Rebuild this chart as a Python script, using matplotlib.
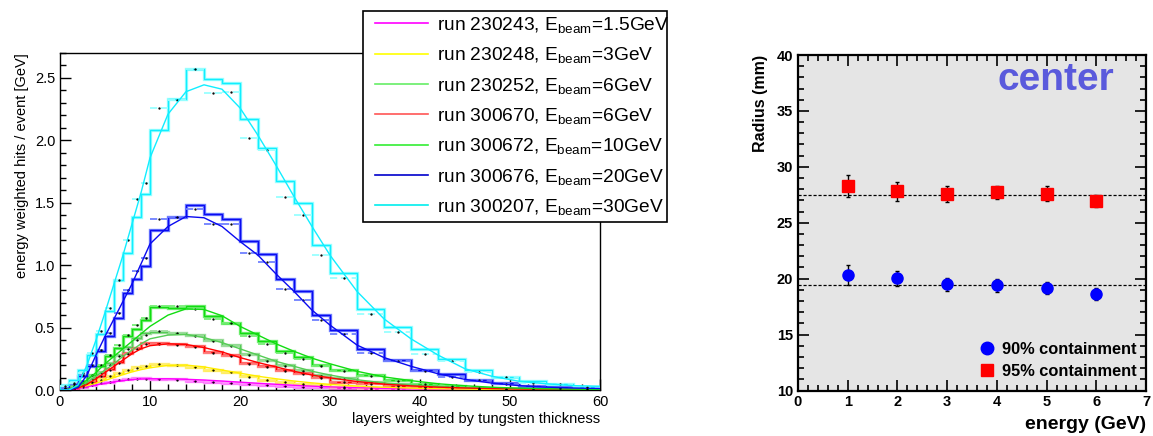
import numpy as np
import matplotlib
matplotlib.use('Agg')
import matplotlib.pyplot as plt
from matplotlib.ticker import MultipleLocator
from matplotlib.lines import Line2D
from matplotlib.patches import Rectangle

plt.rcParams['font.family'] = ['Liberation Sans', 'DejaVu Sans']
plt.rcParams['mathtext.fontset'] = 'custom'
plt.rcParams['mathtext.rm'] = 'Liberation Sans'
plt.rcParams['mathtext.it'] = 'Liberation Sans:italic'
plt.rcParams['mathtext.bf'] = 'Liberation Sans:bold'

# ---------------- left panel data ----------------
layer_edges = [0, 1, 2, 3, 4, 5, 6, 7, 8, 9, 10, 12, 14, 16, 18, 20, 22, 24, 26, 28, 30,
               33, 36, 39, 42, 45, 48, 51, 54, 57, 60]

run_labels = ["run 230243, E$_{\\mathregular{beam}}$=1.5GeV",
              "run 230248, E$_{\\mathregular{beam}}$=3GeV",
              "run 230252, E$_{\\mathregular{beam}}$=6GeV",
              "run 300670, E$_{\\mathregular{beam}}$=6GeV",
              "run 300672, E$_{\\mathregular{beam}}$=10GeV",
              "run 300676, E$_{\\mathregular{beam}}$=20GeV",
              "run 300207, E$_{\\mathregular{beam}}$=30GeV"]

magenta_hist = [0.004, 0.012, 0.025, 0.04, 0.055, 0.068, 0.08, 0.088, 0.093, 0.094,
                0.09, 0.085, 0.075, 0.068, 0.06, 0.05, 0.042, 0.035, 0.028, 0.022,
                0.016, 0.011, 0.008, 0.006, 0.004, 0.003, 0.002, 0.002, 0.001, 0.001]
magenta_dash = [0.004, 0.011, 0.024, 0.039, 0.053, 0.066, 0.078, 0.086, 0.091, 0.092,
                0.088, 0.083, 0.073, 0.066, 0.058, 0.048, 0.04, 0.033, 0.027, 0.021,
                0.015, 0.011, 0.008, 0.005, 0.004, 0.003, 0.002, 0.001, 0.001, 0.001]
magenta_fit = [0.0, 0.004, 0.014, 0.027, 0.04, 0.053, 0.065, 0.075, 0.083, 0.088, 0.09,
               0.09, 0.086, 0.08, 0.072, 0.063, 0.054, 0.046, 0.038, 0.031, 0.025,
               0.018, 0.013, 0.009, 0.006, 0.004, 0.003, 0.002, 0.0015, 0.001, 0.001]

yellow_hist = [0.008, 0.019, 0.037, 0.059, 0.085, 0.112, 0.139, 0.16, 0.181, 0.192,
               0.208, 0.20, 0.187, 0.16, 0.147, 0.112, 0.08, 0.067, 0.051, 0.04,
               0.027, 0.019, 0.014, 0.01, 0.008, 0.006, 0.005, 0.004, 0.003, 0.002]
yellow_dash = [0.007, 0.018, 0.035, 0.057, 0.083, 0.11, 0.135, 0.158, 0.178, 0.19,
               0.205, 0.198, 0.183, 0.157, 0.143, 0.108, 0.078, 0.065, 0.05, 0.038,
               0.026, 0.018, 0.013, 0.009, 0.007, 0.005, 0.004, 0.003, 0.002, 0.002]
yellow_fit = [0.0, 0.004, 0.017, 0.035, 0.055, 0.077, 0.10, 0.123, 0.145, 0.163, 0.178,
              0.197, 0.20, 0.185, 0.16, 0.135, 0.11, 0.09, 0.072, 0.057, 0.045,
              0.032, 0.022, 0.015, 0.01, 0.007, 0.005, 0.004, 0.003, 0.002, 0.0015]

lgreen_hist = [0.01, 0.027, 0.053, 0.093, 0.147, 0.213, 0.28, 0.347, 0.413, 0.453,
               0.467, 0.46, 0.44, 0.40, 0.36, 0.29, 0.24, 0.20, 0.16, 0.12,
               0.093, 0.067, 0.045, 0.03, 0.02, 0.013, 0.009, 0.006, 0.004, 0.003]
lgreen_dash = [0.01, 0.025, 0.05, 0.09, 0.14, 0.20, 0.27, 0.33, 0.40, 0.44,
               0.475, 0.455, 0.43, 0.39, 0.35, 0.28, 0.235, 0.19, 0.155, 0.115,
               0.088, 0.062, 0.042, 0.028, 0.019, 0.012, 0.008, 0.005, 0.004, 0.002]
lgreen_fit = [0.0, 0.005, 0.025, 0.06, 0.11, 0.16, 0.21, 0.27, 0.32, 0.37, 0.41,
              0.44, 0.445, 0.42, 0.38, 0.33, 0.28, 0.23, 0.19, 0.15, 0.12,
              0.082, 0.057, 0.04, 0.028, 0.019, 0.013, 0.009, 0.006, 0.004, 0.003]

red_hist = [0.005, 0.013, 0.035, 0.067, 0.112, 0.165, 0.227, 0.293, 0.333, 0.373,
            0.379, 0.368, 0.352, 0.307, 0.28, 0.22, 0.192, 0.16, 0.133, 0.101,
            0.067, 0.053, 0.035, 0.027, 0.018, 0.012, 0.008, 0.006, 0.004, 0.003]
red_dash = [0.005, 0.012, 0.033, 0.065, 0.11, 0.16, 0.22, 0.285, 0.33, 0.365,
            0.37, 0.36, 0.345, 0.30, 0.27, 0.21, 0.185, 0.15, 0.125, 0.095,
            0.063, 0.05, 0.033, 0.025, 0.017, 0.011, 0.007, 0.005, 0.004, 0.002]
red_fit = [0.0, 0.0, 0.015, 0.045, 0.09, 0.14, 0.19, 0.24, 0.29, 0.33, 0.355,
           0.37, 0.365, 0.34, 0.305, 0.26, 0.22, 0.185, 0.15, 0.12, 0.097,
           0.068, 0.047, 0.033, 0.023, 0.016, 0.011, 0.008, 0.006, 0.004, 0.003]

green_hist = [0.01, 0.03, 0.06, 0.12, 0.19, 0.27, 0.34, 0.43, 0.49, 0.56,
              0.665, 0.66, 0.67, 0.59, 0.54, 0.46, 0.395, 0.312, 0.267, 0.20,
              0.16, 0.12, 0.08, 0.05, 0.032, 0.019, 0.011, 0.008, 0.005, 0.003]
green_dash = [0.01, 0.03, 0.07, 0.12, 0.20, 0.28, 0.36, 0.44, 0.52, 0.58,
              0.672, 0.67, 0.648, 0.565, 0.533, 0.432, 0.37, 0.30, 0.25, 0.19,
              0.15, 0.11, 0.075, 0.05, 0.03, 0.018, 0.01, 0.007, 0.005, 0.003]
green_fit = [0.0, 0.005, 0.03, 0.08, 0.14, 0.21, 0.27, 0.33, 0.39, 0.45, 0.51,
             0.60, 0.65, 0.645, 0.595, 0.51, 0.44, 0.37, 0.31, 0.255, 0.21,
             0.15, 0.105, 0.075, 0.05, 0.034, 0.022, 0.015, 0.01, 0.007, 0.005]

blue_hist = [0.02, 0.05, 0.11, 0.19, 0.31, 0.43, 0.58, 0.78, 0.89, 0.99,
             1.28, 1.39, 1.48, 1.41, 1.37, 1.19, 1.09, 0.89, 0.79, 0.60,
             0.48, 0.33, 0.24, 0.16, 0.125, 0.08, 0.053, 0.032, 0.021, 0.013]
blue_dash = [0.02, 0.05, 0.12, 0.20, 0.32, 0.46, 0.62, 0.80, 0.95, 1.06,
             1.373, 1.39, 1.453, 1.328, 1.328, 1.10, 1.024, 0.813, 0.72, 0.56,
             0.448, 0.30, 0.232, 0.155, 0.107, 0.08, 0.05, 0.03, 0.02, 0.01]
blue_fit = [0.0, 0.0, 0.02, 0.12, 0.28, 0.43, 0.57, 0.71, 0.85, 1.01, 1.17,
            1.31, 1.39, 1.38, 1.31, 1.19, 1.08, 0.93, 0.79, 0.64, 0.52,
            0.36, 0.26, 0.19, 0.13, 0.085, 0.055, 0.035, 0.023, 0.016, 0.012]

cyan_hist = [0.04, 0.08, 0.16, 0.28, 0.45, 0.63, 0.88, 1.10, 1.39, 1.57,
             2.08, 2.33, 2.57, 2.49, 2.46, 2.17, 1.94, 1.675, 1.50, 1.165,
             0.94, 0.648, 0.507, 0.325, 0.248, 0.16, 0.107, 0.072, 0.048, 0.027]
cyan_dash = [0.03, 0.06, 0.14, 0.30, 0.47, 0.66, 0.88, 1.20, 1.53, 1.66,
             2.26, 2.32, 2.57, 2.38, 2.39, 2.02, 1.92, 1.547, 1.405, 1.08,
             0.90, 0.608, 0.467, 0.285, 0.232, 0.141, 0.107, 0.058, 0.05, 0.025]
cyan_fit = [0.0, 0.0, 0.04, 0.20, 0.40, 0.62, 0.85, 1.08, 1.33, 1.58, 1.86,
            2.21, 2.39, 2.445, 2.41, 2.26, 2.04, 1.80, 1.55, 1.31, 1.08,
            0.79, 0.57, 0.41, 0.28, 0.17, 0.11, 0.07, 0.05, 0.035, 0.03]

hist_sets = [magenta_hist, yellow_hist, lgreen_hist, red_hist, green_hist, blue_hist, cyan_hist]
dash_sets = [magenta_dash, yellow_dash, lgreen_dash, red_dash, green_dash, blue_dash, cyan_dash]
fit_sets = [magenta_fit, yellow_fit, lgreen_fit, red_fit, green_fit, blue_fit, cyan_fit]
main_colors = ['#ff00ff', '#ffee00', '#55cc55', '#ff0000', '#11dd11', '#0a0af0', '#11eeff']
light_colors = ['#ff99ff', '#ffee77', '#a0dda0', '#ff8080', '#77ee77', '#7080ff', '#99ffff']
legend_colors = ['#ff00ff', '#ffff00', '#66ee66', '#ff5555', '#33ee33', '#0000cc', '#00eeee']

# ---------------- right panel data ----------------
energies = [1, 2, 3, 4, 5, 6]
r90 = [20.35, 20.05, 19.48, 19.42, 19.18, 18.64]
r90_err = [0.9, 0.68, 0.6, 0.58, 0.55, 0.52]
r95 = [28.26, 27.81, 27.6, 27.72, 27.6, 26.95]
r95_err = [1.0, 0.85, 0.7, 0.6, 0.65, 0.55]
r90_mean = 19.39
r95_mean = 27.52

W, H = 1153, 436
fig = plt.figure(figsize=(W / 100, H / 100), dpi=100)

# ================= left panel =================
ax = fig.add_axes([60 / W, 1 - 390 / H, 540 / W, 337 / H])
edges = np.array(layer_edges, dtype=float)
centers = 0.5 * (edges[:-1] + edges[1:])
for h, d, f, c, lc in zip(hist_sets, dash_sets, fit_sets, main_colors, light_colors):
    ax.stairs(h, edges, color=lc, lw=2.4, zorder=2)
    ax.stairs(h, edges, color=c, lw=1.0, zorder=3)
    ax.hlines(d, edges[:-1], edges[1:], colors=lc, linestyles=(0, (4, 2)), lw=1.3, zorder=3)
    ax.plot(centers, d, 'k.', ms=1.3, zorder=4)
    ax.plot(edges, f, color=c, lw=1.0, zorder=4)

ax.set_xlim(0, 60)
ax.set_ylim(0, 2.7)
ax.xaxis.set_major_locator(MultipleLocator(10))
ax.xaxis.set_minor_locator(MultipleLocator(2))
ax.yaxis.set_major_locator(MultipleLocator(0.5))
ax.yaxis.set_minor_locator(MultipleLocator(0.1))
ax.tick_params(which='both', direction='in', top=False, right=False, labelsize=10.5, width=1)
ax.tick_params(which='major', length=8)
ax.tick_params(which='minor', length=4)
ax.set_xticks([0, 10, 20, 30, 40, 50, 60])
ax.set_xticklabels(['0', '10', '20', '30', '40', '50', '60'])
ax.set_xlabel('layers weighted by tungsten thickness', loc='right', fontsize=10.5, labelpad=2)
ax.set_ylabel('energy weighted hits / event [GeV]', loc='top', fontsize=10.5, labelpad=4)
for s in ax.spines.values():
    s.set_linewidth(1.0)

# legend box (figure coordinates)
box = Rectangle((363 / W, 1 - 222 / H), (667 - 363) / W, (222 - 11) / H,
                transform=fig.transFigure, facecolor='white', edgecolor='black',
                lw=1.2, zorder=4)
fig.add_artist(box)
handles = [Line2D([], [], color=c, lw=1.2) for c in legend_colors]
fig.legend(handles, run_labels, loc='upper left', bbox_to_anchor=(375 / W, 1 - 15 / H),
           bbox_transform=fig.transFigure, frameon=False, fontsize=13.8,
           handlelength=2.75, handletextpad=0.5, borderpad=0.0, borderaxespad=0.0,
           labelspacing=0.54)

# ================= right panel =================
ax2 = fig.add_axes([798 / W, 1 - 390.5 / H, 348 / W, 335.5 / H], facecolor='#e5e5e5')
ax2.axhline(r95_mean, color='black', ls=(0, (2.5, 1.5)), lw=0.9, zorder=1)
ax2.axhline(r90_mean, color='black', ls=(0, (2.5, 1.5)), lw=0.9, zorder=1)
ax2.errorbar(energies, r90, yerr=r90_err, fmt='o', color='#0000ff', ecolor='black',
             elinewidth=1.0, capsize=1.5, ms=8, mec='#0000ff', zorder=3)
ax2.errorbar(energies, r95, yerr=r95_err, fmt='s', color='#ff0000', ecolor='black',
             elinewidth=1.0, capsize=1.5, ms=8, mec='#ff0000', zorder=3)
ax2.set_xlim(0, 7)
ax2.set_ylim(10, 40)
ax2.xaxis.set_major_locator(MultipleLocator(1))
ax2.xaxis.set_minor_locator(MultipleLocator(0.2))
ax2.yaxis.set_major_locator(MultipleLocator(5))
ax2.yaxis.set_minor_locator(MultipleLocator(1))
ax2.tick_params(which='both', direction='in', top=True, right=True, labelsize=10.5, width=1.2)
ax2.tick_params(which='major', length=8)
ax2.tick_params(which='minor', length=4)
for lab in ax2.get_xticklabels() + ax2.get_yticklabels():
    lab.set_fontweight('bold')
for s in ax2.spines.values():
    s.set_linewidth(1.6)
ax2.set_xlabel('energy (GeV)', loc='right', fontsize=14, fontweight='bold', labelpad=5)
ax2.set_ylabel('Radius (mm)', loc='top', fontsize=11.5, fontweight='bold', labelpad=6)
ax2.text(0.742, 0.925, 'center', transform=ax2.transAxes, ha='center', va='center',
         fontsize=28, fontweight='bold', color='#5a5adc')
leg_handles = [Line2D([], [], ls='none', marker='o', ms=9, color='#0000ff'),
               Line2D([], [], ls='none', marker='s', ms=8, color='#ff0000')]
ax2.legend(leg_handles, ['90% containment', '95% containment'], loc='lower right',
           bbox_to_anchor=(1.005, 0.0), frameon=False,
           prop={'weight': 'bold', 'size': 11.8}, handletextpad=0.4,
           labelspacing=0.45, borderpad=0.2, handlelength=1.0)

fig.savefig('out.png', dpi=100)
